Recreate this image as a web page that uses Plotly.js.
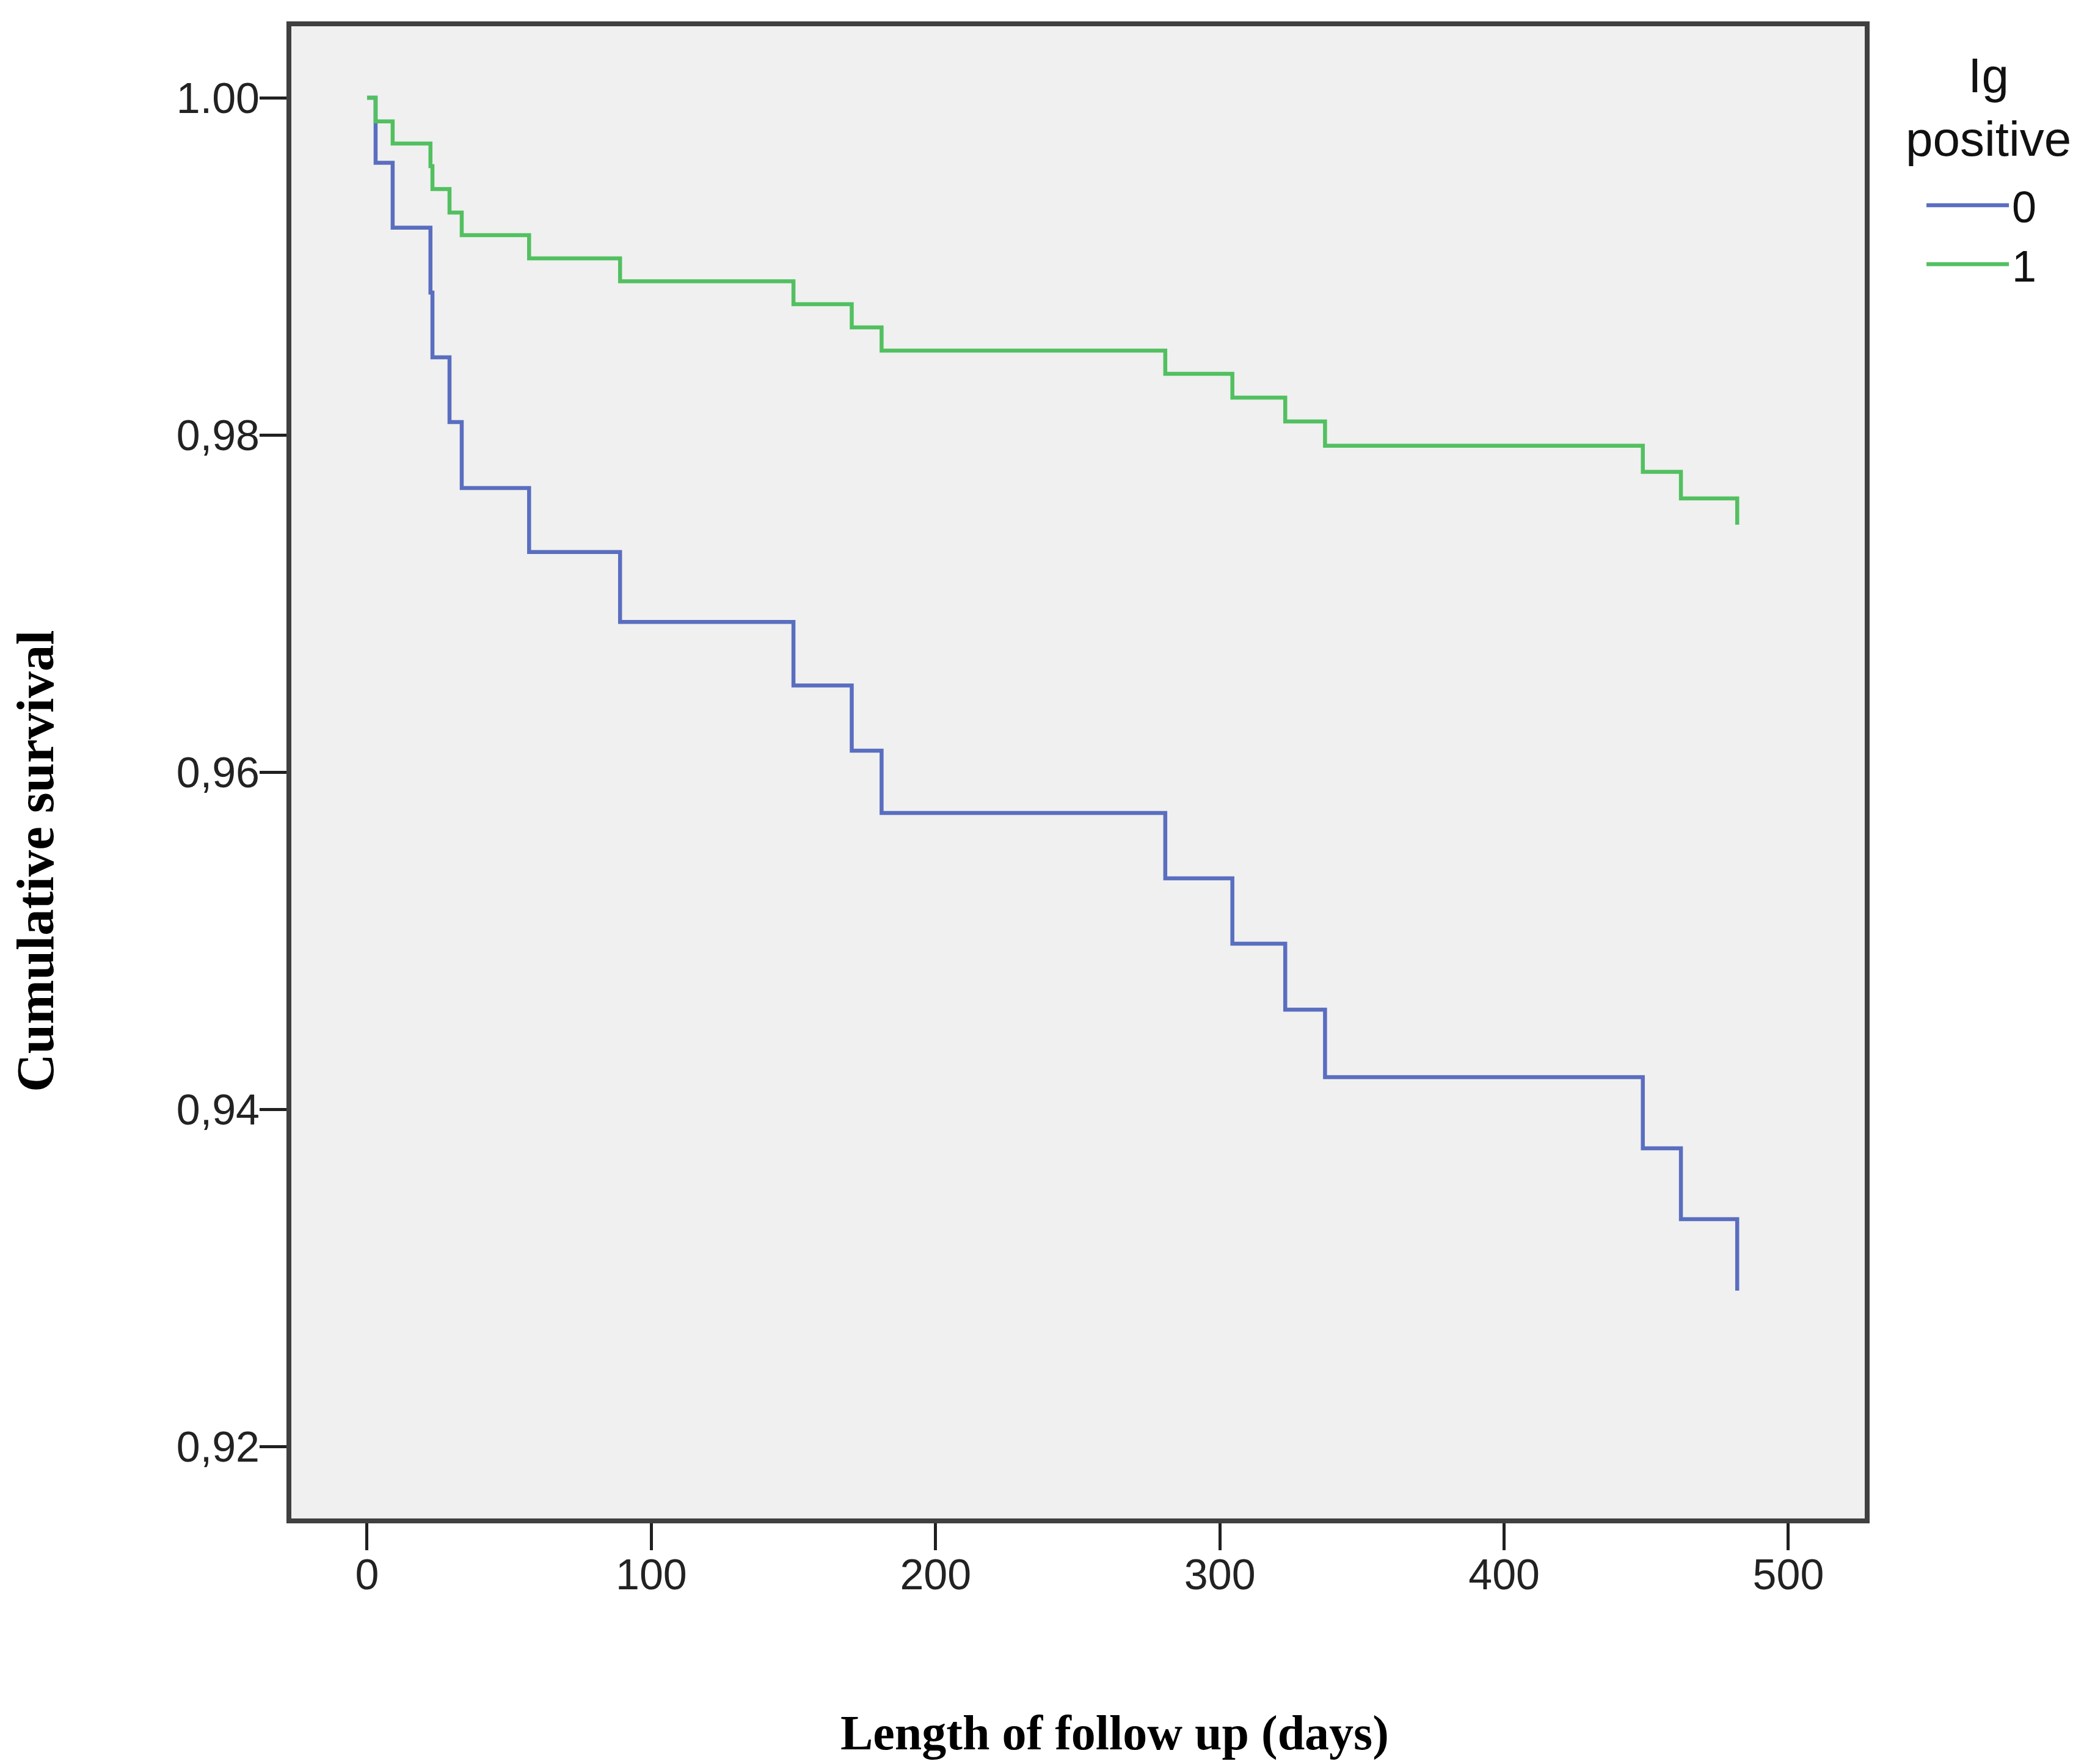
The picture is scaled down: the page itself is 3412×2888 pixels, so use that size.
<!DOCTYPE html>
<html>
<head>
<meta charset="utf-8">
<script src="https://cdn.plot.ly/plotly-3.0.1.min.js"></script>
<style>
  html, body { margin: 0; padding: 0; background: #ffffff; }
  #chart { width: 3412px; height: 2888px; }
</style>
</head>
<body>
<div id="chart"></div>
<script>
// Kaplan-Meier step data
const daysGroup0 = [0, 3, 9, 22.3, 23, 29, 33.3, 57, 89, 150, 170.5, 181, 280.8, 304.4, 323, 337, 448.8, 462.2, 482];
const survGroup0 = [1.0, 0.99614, 0.99229, 0.98844, 0.98460, 0.98076, 0.97685, 0.97305, 0.96890, 0.96514, 0.96127, 0.95757, 0.95370, 0.94982, 0.94591, 0.94190, 0.93768, 0.93348, 0.92924];

const daysGroup1 = [0, 3, 9, 22.3, 23, 29, 33.3, 57, 89, 150, 170.5, 181, 280.8, 304.4, 323, 337, 448.8, 462.2, 482];
const survGroup1 = [1.0, 0.99860, 0.99728, 0.99594, 0.99458, 0.99319, 0.99185, 0.99047, 0.98911, 0.98775, 0.98638, 0.98500, 0.98362, 0.98221, 0.98080, 0.97936, 0.97781, 0.97623, 0.97467];

const groupNames = ["0", "1"];
const legendTitle = "Ig<br>positive";
const xTickVals = [0, 100, 200, 300, 400, 500];
const xTickText = ["0", "100", "200", "300", "400", "500"];
const yTickVals = [0.92, 0.94, 0.96, 0.98, 1.00];
const yTickText = ["0,92", "0,94", "0,96", "0,98", "1.00"];

const traces = [
  {
    x: daysGroup0, y: survGroup0, name: groupNames[0],
    type: "scatter", mode: "lines",
    line: { shape: "hv", color: "#5A6EC0", width: 6.5 }
  },
  {
    x: daysGroup1, y: survGroup1, name: groupNames[1],
    type: "scatter", mode: "lines",
    line: { shape: "hv", color: "#52C060", width: 6.5 }
  }
];

const tickFont = { family: "Liberation Sans, Arial, sans-serif", size: 70, color: "#222222" };
const titleFont = { family: "Liberation Serif, Times New Roman, serif", color: "#000000" };
const legendFont = { family: "Liberation Sans, Arial, sans-serif", size: 80, color: "#111111" };

const layout = {
  width: 3412,
  height: 2888,
  paper_bgcolor: "#ffffff",
  plot_bgcolor: "#F0F0F0",
  margin: { l: 477, r: 359, t: 43, b: 402, pad: 0 },
  showlegend: true,
  xaxis: {
    range: [-26.64, 526.86],
    tickvals: xTickVals,
    ticktext: xTickText,
    showgrid: false,
    zeroline: false,
    showline: true,
    linecolor: "#404040",
    linewidth: 8,
    mirror: true,
    ticks: "outside",
    ticklen: 44,
    tickwidth: 5,
    tickcolor: "#202020",
    ticklabelstandoff: -20,
    tickfont: tickFont,
    title: { text: "" }
  },
  yaxis: {
    range: [0.915725, 1.004239],
    tickvals: yTickVals,
    ticktext: yTickText,
    showgrid: false,
    zeroline: false,
    showline: true,
    linecolor: "#404040",
    linewidth: 8,
    mirror: true,
    ticks: "outside",
    ticklen: 44,
    tickwidth: 5,
    tickcolor: "#202020",
    ticklabelstandoff: -14,
    tickfont: tickFont,
    title: { text: "" }
  },
  legend: {
    x: 1.0373, xanchor: "left",
    y: 0.9019, yanchor: "top",
    bgcolor: "rgba(0,0,0,0)",
    borderwidth: 0,
    itemwidth: 135,
    font: { family: "Liberation Sans, Arial, sans-serif", size: 72, color: "#111111" }
  },
  annotations: [
    {
      text: "<b>Length of follow up (days)</b>",
      xref: "paper", yref: "paper",
      x: 0.5233, y: -0.1437,
      xanchor: "center", yanchor: "middle",
      showarrow: false,
      font: Object.assign({ size: 80 }, titleFont)
    },
    {
      text: "<b>Cumulative survival</b>",
      xref: "paper", yref: "paper",
      x: -0.16304, y: 0.44044,
      xanchor: "center", yanchor: "middle",
      textangle: -90,
      showarrow: false,
      font: Object.assign({ size: 87 }, titleFont)
    },
    {
      text: legendTitle,
      xref: "paper", yref: "paper",
      x: 1.0785, y: 0.9459,
      xanchor: "center", yanchor: "middle",
      align: "center",
      showarrow: false,
      font: legendFont
    }
  ]
};

Plotly.newPlot("chart", traces, layout, { staticPlot: true, displayModeBar: false });
</script>
</body>
</html>
